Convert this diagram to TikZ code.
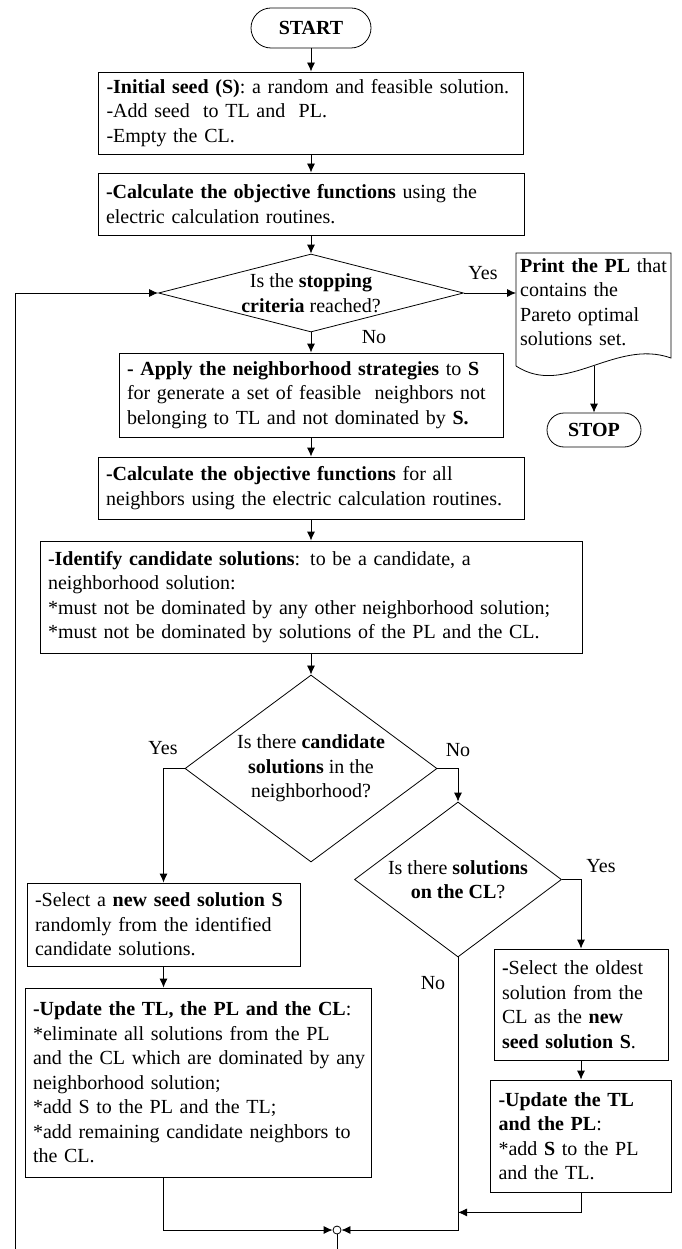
\documentclass[tikz,border=0pt]{standalone}
\usepackage{fontspec}
\setmainfont{Liberation Serif}
\usepackage{tikz}
\usetikzlibrary{arrows.meta,shapes.geometric}
\tikzset{>={Latex[width=8pt,length=9pt]}}
\tikzset{
  box/.style={draw, line width=0.8pt, align=left, inner xsep=2pt, inner ysep=0pt,
    execute at begin node={\leftskip=6pt\relax}},
  cond/.style={draw, diamond, line width=0.8pt, inner sep=0pt},
  condtext/.style={align=center, inner sep=0pt},
  term/.style={draw, rectangle, line width=0.8pt, inner sep=0pt},
  lbl/.style={inner sep=1pt},
  flow/.style={->, line width=0.8pt},
}

\begin{document}
\begin{tikzpicture}[x=1pt, y=-1pt]

  \fontsize{20}{24.5}\selectfont
  \useasboundingbox (0,0) rectangle (681,1249);

  %% main column
  \node[term, rounded corners=20pt, minimum width=120pt, minimum height=40pt] (start) at (311,28) {\textbf{START}};
  \node[box, text width=421pt, minimum height=82pt] (initseed) at (311,113)
    {\textbf{-Initial seed (S)}: a random and feasible solution.\\
     -Add seed\ \ to TL and\ \ PL.\\
     -Empty the CL.};
  \node[box, text width=422pt, minimum height=62pt] (calcobj) at (311,204)
    {\textbf{-Calculate the objective functions} using the\\
     electric calculation routines.};
  \node[cond, minimum width=305pt, minimum height=78pt] (stopcrit) at (311,293) {};
  \node[condtext] (stopcrit-q) at (stopcrit) {Is the \textbf{stopping}\\ \textbf{criteria} reached?};

  %% exit
  \node[anchor=north west, align=left, text width=155pt, inner xsep=0pt, inner ysep=5pt,
    execute at begin node={\leftskip=4pt\relax}] (printpl) at (516,253)
    {\textbf{Print the PL} that\\ contains the\\ Pareto optimal\\ solutions set.};
  \draw[line width=0.8pt] (516,366) -- (516,253) -- (671,253) -- (671,358)
    .. controls (615,338) and (565,398) .. (516,366);
  \coordinate (plbot) at (594,366);
  \node[term, rounded corners=17pt, minimum width=94pt, minimum height=34pt] (stop) at (594,430) {\textbf{STOP}};

  \node[box, text width=380pt, minimum height=84pt] (neighstrat) at (311,395)
    {\textbf{- Apply the neighborhood strategies} to \textbf{S}\\
     for generate a set of feasible\ \ neighbors not\\
     belonging to TL and not dominated by \textbf{S.}};
  \node[box, text width=422pt, minimum height=62pt] (calcall) at (311,488)
    {\textbf{-Calculate the objective functions} for all\\
     neighbors using the electric calculation routines.};
  \node[box, text width=538pt, minimum height=112pt] (identify) at (311,597)
    {-\textbf{Identify candidate solutions}: to be a candidate, a\\
     neighborhood solution:\\
     {*}must not be dominated by any other neighborhood solution;\\
     {*}must not be dominated by solutions of the PL and the CL.};
  \node[cond, minimum width=252pt, minimum height=187pt] (candsol) at (311,768.5) {};
  \node[condtext] (candsol-q) at (candsol) {Is there \textbf{candidate}\\ \textbf{solutions} in the\\ neighborhood?};
  \node[cond, minimum width=207pt, minimum height=155pt] (clsol) at (458,879.5) {};
  \node[condtext] (clsol-q) at (clsol) {Is there \textbf{solutions}\\ \textbf{on the CL}?};

  %% left branch
  \node[box, text width=269pt, minimum height=83pt] (newseed) at (163.5,924.5)
    {-Select a \textbf{new seed solution S}\\
     randomly from the identified\\
     candidate solutions.};
  \node[box, text width=342pt, minimum height=189pt] (updateall) at (198,1082.5)
    {\textbf{-Update the TL, the PL and the CL}:\\
     {*}eliminate all solutions from the PL\\
     and the CL which are dominated by any\\
     neighborhood solution;\\
     {*}add S to the PL and the TL;\\
     {*}add remaining candidate neighbors to\\
     the CL.};

  %% right branch
  \node[box, text width=170pt, minimum height=111pt] (oldest) at (581,1004.5)
    {\textbf{-}Select the oldest\\
     solution from the\\
     CL as the \textbf{new}\\
     \textbf{seed solution S}.};
  \node[box, text width=177pt, minimum height=112pt] (updatetl) at (581,1136)
    {\textbf{-Update the TL}\\
     \textbf{and the PL}:\\
     {*}add \textbf{S} to the PL\\
     and the TL.};

  \node[draw, circle, line width=0.8pt, fill=white, inner sep=0pt, minimum size=8pt] (merge) at (337,1230) {};

  %% labels
  \node[lbl] (yes1) at (483,273) {Yes};
  \node[lbl] (no1) at (374,337) {No};
  \node[lbl] (yes2) at (163,748) {Yes};
  \node[lbl] (no2) at (458,750) {No};
  \node[lbl] (yes3) at (601,866) {Yes};
  \node[lbl] (no3) at (433,983) {No};

  %% connectors
  \draw[flow] (start) -- (initseed);
  \draw[flow] (initseed) -- (calcobj);
  \draw[flow] (calcobj) -- (stopcrit);
  \draw[flow] (stopcrit.east) -- (stopcrit.east -| printpl.west); % yes
  \draw[flow] (plbot) -- (stop);
  \draw[flow] (stopcrit) -- (neighstrat); % no
  \draw[flow] (neighstrat) -- (calcall);
  \draw[flow] (calcall) -- (identify);
  \draw[flow] (identify) -- (candsol);
  \draw[flow] (candsol.west) -| (newseed.north); % yes
  \draw[flow] (candsol.east) -| (clsol.north); % no
  \draw[flow] (clsol.east) -| (oldest.north); % yes
  \draw[flow] (oldest) -- (updatetl);
  \draw[flow] (newseed) -- (newseed |- updateall.north);
  \coordinate (tlfoot) at ([yshift=-20pt]updatetl.south);
  \draw[flow] (updatetl.south) |- (clsol.south |- tlfoot);
  \draw[flow] (clsol.south) |- (merge.east); % no
  \draw[flow] (newseed |- updateall.south) |- (merge.west);
  \draw[flow] (merge.south) -- ++(0,35) -| ([xshift=-143pt]stopcrit.west) -- (stopcrit.west); % loop back

\end{tikzpicture}
\end{document}
